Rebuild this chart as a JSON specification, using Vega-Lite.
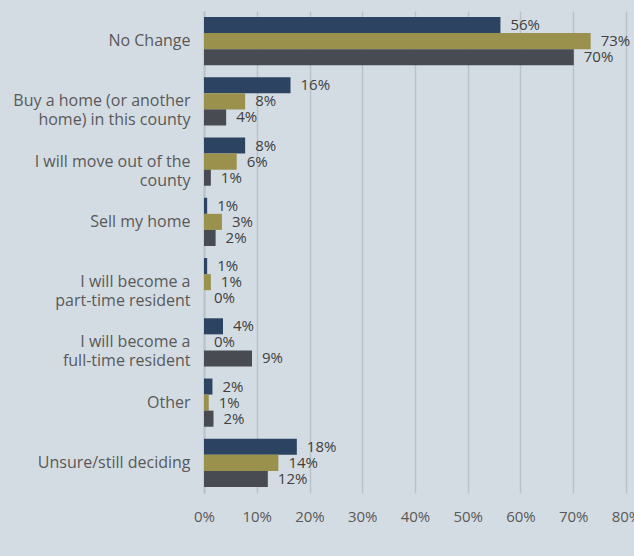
{
  "$schema": "https://vega.github.io/schema/vega-lite/v6.json",
  "width": 422,
  "height": 482,
  "autosize": {"type": "none"},
  "padding": {"left": 204, "top": 11, "right": 8, "bottom": 63},
  "background": "#d4dce3",
  "config": {
    "view": {"stroke": null},
    "font": "Open Sans"
  },
  "data": {
    "values": [
      {"response": "No Change", "group": "Newcomers", "value": 0.562},
      {"response": "No Change", "group": "Full Time", "value": 0.733},
      {"response": "No Change", "group": "Part Time", "value": 0.701},
      {"response": "Buy a home (or another home) in this county", "group": "Newcomers", "value": 0.164},
      {"response": "Buy a home (or another home) in this county", "group": "Full Time", "value": 0.078},
      {"response": "Buy a home (or another home) in this county", "group": "Part Time", "value": 0.042},
      {"response": "I will move out of the county", "group": "Newcomers", "value": 0.078},
      {"response": "I will move out of the county", "group": "Full Time", "value": 0.062},
      {"response": "I will move out of the county", "group": "Part Time", "value": 0.013},
      {"response": "Sell my home", "group": "Newcomers", "value": 0.006},
      {"response": "Sell my home", "group": "Full Time", "value": 0.034},
      {"response": "Sell my home", "group": "Part Time", "value": 0.022},
      {"response": "I will become a part-time resident", "group": "Newcomers", "value": 0.006},
      {"response": "I will become a part-time resident", "group": "Full Time", "value": 0.013},
      {"response": "I will become a part-time resident", "group": "Part Time", "value": 0.0},
      {"response": "I will become a full-time resident", "group": "Newcomers", "value": 0.036},
      {"response": "I will become a full-time resident", "group": "Full Time", "value": 0.0},
      {"response": "I will become a full-time resident", "group": "Part Time", "value": 0.091},
      {"response": "Other", "group": "Newcomers", "value": 0.016},
      {"response": "Other", "group": "Full Time", "value": 0.009},
      {"response": "Other", "group": "Part Time", "value": 0.018},
      {"response": "Unsure/still deciding", "group": "Newcomers", "value": 0.176},
      {"response": "Unsure/still deciding", "group": "Full Time", "value": 0.141},
      {"response": "Unsure/still deciding", "group": "Part Time", "value": 0.121}
    ]
  },
  "encoding": {
    "y": {
      "field": "response",
      "type": "nominal",
      "sort": null,
      "scale": {"paddingInner": 0.2, "paddingOuter": 0.1},
      "axis": {
        "title": null,
        "ticks": false,
        "domain": true,
        "domainColor": "#b9c1ca",
        "domainWidth": 2,
        "labelPadding": 14,
        "labelFontSize": 16,
        "labelColor": "#595959",
        "labelLineHeight": 19,
        "labelLimit": 220,
        "labelExpr": "datum.value == 'Buy a home (or another home) in this county' ? ['Buy a home (or another', 'home) in this county'] : datum.value == 'I will move out of the county' ? ['I will move out of the', 'county'] : datum.value == 'I will become a part-time resident' ? ['I will become a', 'part-time resident'] : datum.value == 'I will become a full-time resident' ? ['I will become a', 'full-time resident'] : datum.value"
      }
    },
    "yOffset": {
      "field": "group",
      "type": "nominal",
      "sort": ["Newcomers", "Full Time", "Part Time"],
      "scale": {"paddingInner": 0, "paddingOuter": 0}
    }
  },
  "layer": [
    {
      "mark": {"type": "bar", "strokeWidth": 1},
      "encoding": {
        "x": {
          "field": "value",
          "type": "quantitative",
          "scale": {"domain": [0, 0.8], "nice": false},
          "axis": {
            "title": null,
            "format": ".0%",
            "values": [0, 0.1, 0.2, 0.3, 0.4, 0.5, 0.6, 0.7, 0.8],
            "grid": true,
            "gridColor": "#b9c1ca",
            "gridWidth": 1.5,
            "domain": false,
            "ticks": false,
            "labelOverlap": false,
            "labelPadding": 16,
            "labelFontSize": 15,
            "labelColor": "#595959",
            "labelFlush": false
          }
        },
        "color": {
          "field": "group",
          "type": "nominal",
          "sort": ["Newcomers", "Full Time", "Part Time"],
          "scale": {
            "domain": ["Newcomers", "Full Time", "Part Time"],
            "range": ["#2c4462", "#9a924c", "#484b51"]
          },
          "legend": {
            "title": null,
            "orient": "bottom",
            "direction": "horizontal",
            "symbolType": "square",
            "symbolSize": 120,
            "symbolStrokeWidth": 0,
            "labelFontSize": 15,
            "labelColor": "#595959",
            "columnPadding": 16,
            "offset": 34
          }
        }
      }
    },
    {
      "mark": {"type": "text", "align": "left", "baseline": "middle", "dx": 10, "fontSize": 15, "color": "#404040"},
      "encoding": {
        "x": {"field": "value", "type": "quantitative"},
        "text": {"field": "value", "type": "quantitative", "format": ".0%"}
      }
    }
  ]
}
